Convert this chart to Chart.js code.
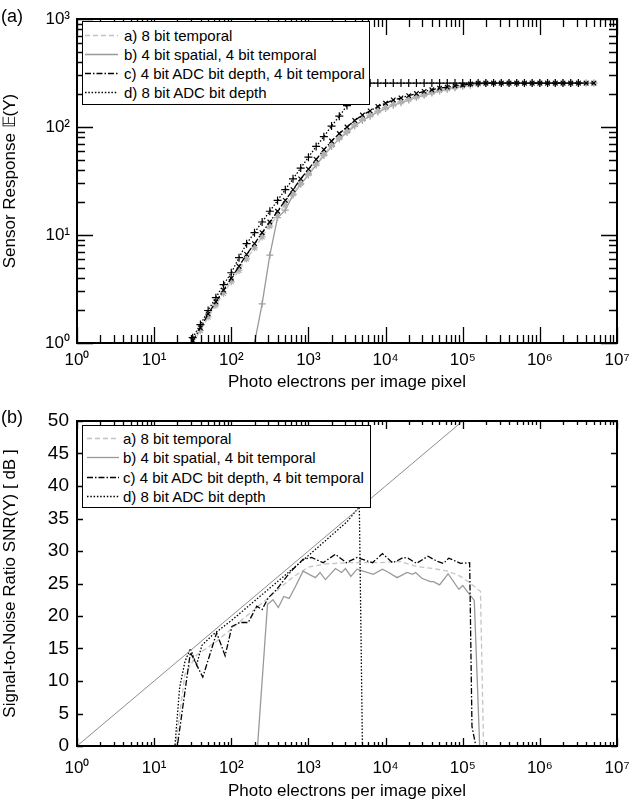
<!DOCTYPE html>
<html><head><meta charset="utf-8">
<script src="https://cdn.jsdelivr.net/npm/chart.js@4/dist/chart.umd.min.js"></script>
<style>
html,body{margin:0;padding:0;background:#fff}
body{width:642px;height:806px;position:relative;overflow:hidden;font-family:"Liberation Sans",Arial,sans-serif}
canvas{position:absolute;left:0}
#ca{top:0}
#cb{top:400px}
.tag{position:absolute;font-size:18px;color:#000}
.leg{position:absolute;border:1.5px solid #000;background:#fff;box-sizing:border-box}
.row{position:absolute;height:19px;line-height:19px;font-size:15px;white-space:nowrap;color:#000}
.row svg{position:absolute;top:4px}
.row span{position:absolute}
</style></head>
<body>
<canvas id="ca" width="642" height="400"></canvas>
<canvas id="cb" width="642" height="406"></canvas>
<div class="tag" style="left:1px;top:6px">(a)</div>
<div class="tag" style="left:1px;top:407px">(b)</div>
<div class="leg" id="legA" style="left:82px;top:21px;width:288px;height:84px"></div>
<div class="leg" id="legB" style="left:82px;top:425px;width:289px;height:83px"></div>
<script>
// ---------- labels ----------
const seriesLabels = ["a) 8 bit temporal", "b) 4 bit spatial, 4 bit temporal", "c) 4 bit ADC bit depth, 4 bit temporal", "d) 8 bit ADC bit depth"];
const xTitle = "Photo electrons per image pixel";
const yTitleA = "Sensor Response \u{1D53C}(Y)";
const yTitleB = "Signal-to-Noise Ratio SNR(Y) [ dB ]";
const supDigits = ["\u2070","\u00B9","\u00B2","\u00B3","\u2074","\u2075","\u2076","\u2077"];

// ---------- panel (a): sensor response, x = photo electrons ----------
const electronsA = [31.6, 39.8, 50.1, 63.1, 79.4, 100, 126, 158, 200, 251, 316, 398, 501, 631, 794,
  1000, 1259, 1585, 1995, 2512, 3162, 3981, 5012, 6310, 7943, 10000, 12589, 15849, 19953, 25119,
  31623, 39811, 50119, 63096, 79433, 100000, 125893, 158489, 199526, 251189, 316228, 398107, 501187,
  630957, 794328, 1000000, 1258925, 1584893, 1995262, 2511886, 3162278, 3981072, 5011872];
const respA = [1.0, 1.3, 1.74, 2.24, 2.88, 3.7, 4.7, 6.0, 7.6, 9.6, 12.1, 15.2, 19.1, 24, 30, 37, 45.7, 56, 67.6, 79.4,
  91.2, 105, 118, 129, 141, 151, 162, 171, 180, 190, 200, 209, 218, 226, 234, 240, 246, 251,
  255, 255, 255, 255, 255, 255, 255, 255, 255, 255, 255, 255, 255, 255, 255];
const respB = [null, null, null, null, null, null, null, null, 1.0, 2.3, 6.5, 14.5, 17, 23.5, 29.5, 36, 44.5, 54.5, 66, 77.6,
  89, 102, 115, 126, 138, 148, 159, 168, 178, 188, 197, 206, 215, 224, 231, 238, 244, 250,
  255, 255, 255, 255, 255, 255, 255, 255, 255, 255, 255, 255, 255, 255, 255];
const respC = [1.05, 1.38, 1.86, 2.4, 3.09, 3.98, 5.13, 6.61, 8.32, 10.5, 13.2, 16.6, 20.9, 26.3, 33.1, 40.7, 50.1, 61.7, 74.1, 87.1,
  100, 115, 129, 141, 155, 166, 178, 186, 195, 204, 214, 221, 229, 234, 240, 245, 251,
  255, 255, 255, 255, 255, 255, 255, 255, 255, 255, 255, 255, 255, 255, 255, 255];
const respD = [1.12, 1.48, 2.0, 2.63, 3.47, 4.47, 6.17, 8.32, 10.5, 13.2, 16.6, 20.9, 26.3, 33.1, 41.7, 52.5, 66.1, 81.3, 102, 126,
  158, 200, 251,
  255, 255, 255, 255, 255, 255, 255, 255, 255, 255, 255, 255, 255, 255, 255, 255, 255, 255, 255, 255, 255, 255, 255, 255, 255, 255, 255, 255];

// ---------- panel (b): SNR in dB, [electrons, dB] ----------
const snrIdeal = [[1,0],[10,10],[100,20],[1000,30],[10000,40],[100000,50]];
const snrA = [[1,0],[19,0],[25,11],[35.5,14],[63,16],[100,18],[158,20],[251,22],[398,24],[631,26],[1000,27.5],[1585,28],
  [3162,28.2],[8511,28.2],[15488,28.4],[25704,27.6],[41687,27.3],[64565,26.9],[93325,26.1],[117490,25.3],[169824,23.8],[186209,0],[1e7,0]];
const snrB = [[1,0],[219,0],[295,21.8],[347,22.5],[407,21.3],[479,23],[562,22.7],[676,24.5],[851,26.9],[1230,25.9],[1413,26.7],
  [1660,25.6],[2239,27.3],[2692,26.7],[3020,27.3],[3548,26.1],[4266,27.2],[6918,26.4],[9120,27.2],[10965,26.7],[14125,25.9],
  [19055,26.7],[22387,26.4],[24547,26.7],[29512,25.8],[38019,25.3],[41687,25.3],[50119,24.8],[64565,26.5],[89125,24.1],
  [100000,24.7],[123027,23.3],[141254,22.4],[165959,0],[1e7,0]];
const snrC = [[1,0],[20,0],[29.5,14.4],[42.7,10.6],[64.6,17.4],[83.2,13.9],[102,18.4],[129,19],[166,19],[214,21.5],[251,21],
  [302,22.8],[389,24.1],[525,26.1],[631,27.2],[851,28.7],[1096,29],[1549,28.2],[2239,29.5],[3090,28.2],[4266,29],[6761,28.2],
  [9120,29.6],[12303,28.2],[14125,28.5],[16982,29],[19498,28.9],[25119,28.1],[35481,29.2],[46774,28.4],[56234,28.1],
  [66069,28.9],[93325,28.1],[123027,28.2],[131826,3],[147911,0],[1e7,0]];
const snrD = [[1,0],[18.6,0],[21.4,9],[25.1,13],[29.5,15],[35.5,12.5],[41.7,15.5],[56.2,17],[100,19.3],[316,24.3],
  [1000,29.3],[3162,34.5],[4571,36.8],[5012,0],[1e7,0]];

// ---------- styles ----------
const colA = "#c4c4c4", colB = "#999999", colC = "#000000", colD = "#000000";
const dashA = [5,3], dashB = [], dashC = [6,2,1.5,2], dashD = [1.5,1.8];
const FONT = "'Liberation Sans', Arial, sans-serif";

function isPow10(v){ const l = Math.log10(v); return Math.abs(l - Math.round(l)) < 1e-6; }
function powLabel(v){ return isPow10(v) ? "10" + supDigits[Math.round(Math.log10(v))] : ""; }

function frameTicks(opts){
  return {
    id: "frameTicks",
    afterDatasetsDraw(chart){
      const {ctx, chartArea:a, scales} = chart;
      const x = scales.x, y = scales.y;
      ctx.save();
      ctx.strokeStyle = "#000"; ctx.lineWidth = 1.3;
      ctx.beginPath();
      for (let e = 0; e < 7; e++) for (let k = 1; k <= 10; k++) {
        const v = k * Math.pow(10, e); if (k === 10 && e < 6) continue;
        const px = Math.round(x.getPixelForValue(v)) + 0.5;
        const L = (k === 1 || k === 10) ? opts.xMaj : opts.xMin;
        ctx.moveTo(px, a.bottom); ctx.lineTo(px, a.bottom - L);
        ctx.moveTo(px, a.top); ctx.lineTo(px, a.top + L);
      }
      if (opts.yLog) {
        for (let e = 0; e < 3; e++) for (let k = 1; k <= 10; k++) {
          const v = k * Math.pow(10, e); if (k === 10 && e < 2) continue;
          const py = Math.round(y.getPixelForValue(v)) + 0.5;
          const L = (k === 1 || k === 10) ? opts.yMaj : opts.yMin;
          ctx.moveTo(a.left, py); ctx.lineTo(a.left + L, py);
          ctx.moveTo(a.right, py); ctx.lineTo(a.right - L, py);
        }
      } else {
        y.ticks.forEach(t => {
          const py = Math.round(y.getPixelForValue(t.value)) + 0.5;
          ctx.moveTo(a.left, py); ctx.lineTo(a.left + opts.yMaj, py);
          ctx.moveTo(a.right, py); ctx.lineTo(a.right - opts.yMaj, py);
        });
      }
      ctx.stroke();
      ctx.lineWidth = 2;
      ctx.strokeRect(a.left, a.top, a.right - a.left, a.bottom - a.top);
      ctx.restore();
    }
  };
}

function xAxis(height, tickPad, titlePadBottom){
  return {
    type: "logarithmic", min: 1, max: 1e7,
    grid: {display: false, drawTicks: false}, border: {display: false},
    afterFit(s){ s.height = height; },
    ticks: {autoSkip: false, maxRotation: 0, padding: tickPad, color: "#000",
      font: {family: FONT, size: 17}, callback: (v) => powLabel(v)},
    title: {display: true, text: xTitle, color: "#000", font: {family: FONT, size: 17},
      padding: {top: 0, bottom: titlePadBottom}}
  };
}

function lineDs(label, data, color, dash, extra){
  return Object.assign({label, data, borderColor: color, backgroundColor: color, borderDash: dash,
    borderWidth: 1.3, pointRadius: 0, tension: 0, fill: false, spanGaps: false}, extra || {});
}

// ---------- chart (a) ----------
const toPts = (ys) => electronsA.map((x, i) => ({x, y: ys[i]}));
new Chart(document.getElementById("ca"), {
  type: "line",
  data: {datasets: [
    lineDs(seriesLabels[3], toPts(respD), colD, dashD, {pointStyle: "cross", pointRadius: 4, pointBorderWidth: 1.2, pointBorderColor: "#000"}),
    lineDs(seriesLabels[2], toPts(respC), colC, dashC, {pointStyle: "crossRot", pointRadius: 3.2, pointBorderWidth: 1.2, pointBorderColor: "#000"}),
    lineDs(seriesLabels[0], toPts(respA), colA, dashA, {pointStyle: "star", pointRadius: 3.5, pointBorderWidth: 1.2, pointBorderColor: "#b0b0b0"}),
    lineDs(seriesLabels[1], toPts(respB), colB, dashB, {pointStyle: "cross", pointRadius: 3.5, pointBorderWidth: 1.2, pointBorderColor: "#a0a0a0"})
  ]},
  options: {
    responsive: false, animation: false, devicePixelRatio: 1,
    layout: {padding: {left: 0, right: 25, top: 19, bottom: 0}},
    plugins: {legend: {display: false}, tooltip: {enabled: false}},
    scales: {
      x: xAxis(57, 7, 7),
      y: {type: "logarithmic", min: 1, max: 1000,
        grid: {display: false, drawTicks: false}, border: {display: false},
        afterFit(s){ s.width = 77; },
        ticks: {autoSkip: false, padding: 7, color: "#000", font: {family: FONT, size: 17}, callback: (v) => powLabel(v)},
        title: {display: true, text: yTitleA, color: "#000", font: {family: FONT, size: 17}, padding: {top: 0, bottom: 0}}
      }
    }
  },
  plugins: [frameTicks({xMaj: 16, xMin: 8, yMaj: 16, yMin: 8, yLog: true})]
});

// ---------- chart (b) ----------
const toXY = (arr) => arr.map(p => ({x: p[0], y: p[1]}));
new Chart(document.getElementById("cb"), {
  type: "line",
  data: {datasets: [
    lineDs("ideal", toXY(snrIdeal), "#8c8c8c", [], {borderWidth: 1}),
    lineDs(seriesLabels[3], toXY(snrD), colD, dashD),
    lineDs(seriesLabels[2], toXY(snrC), colC, dashC),
    lineDs(seriesLabels[1], toXY(snrB), colB, dashB),
    lineDs(seriesLabels[0], toXY(snrA), colA, dashA)
  ]},
  options: {
    responsive: false, animation: false, devicePixelRatio: 1,
    layout: {padding: {left: 0, right: 25, top: 21, bottom: 0}},
    plugins: {legend: {display: false}, tooltip: {enabled: false}},
    scales: {
      x: xAxis(60, 12, 4),
      y: {type: "linear", min: 0, max: 50,
        grid: {display: false, drawTicks: false}, border: {display: false},
        afterFit(s){ s.width = 77; },
        ticks: {stepSize: 5, autoSkip: false, padding: 8, color: "#000", font: {family: FONT, size: 19}},
        title: {display: true, text: yTitleB, color: "#000", font: {family: FONT, size: 17}, padding: {top: 0, bottom: 0}}
      }
    }
  },
  plugins: [frameTicks({xMaj: 8, xMin: 4, yMaj: 6, yLog: false})]
});

// ---------- legends (HTML text) ----------
const legColors = [colA, colB, colC, colD];
const legDashes = [dashA, dashB, dashC, dashD];
function buildLegend(id, firstTop, step, lineX0, lineX1, textX){
  const box = document.getElementById(id);
  seriesLabels.forEach((lab, i) => {
    const row = document.createElement("div");
    row.className = "row";
    row.style.left = "0px"; row.style.top = (firstTop + i * step) + "px";
    const w = lineX1 + 2;
    row.innerHTML = `<svg width="${w}" height="11" style="left:0"><line x1="${lineX0}" y1="5.5" x2="${lineX1}" y2="5.5" stroke="${legColors[i]}" stroke-width="1.3" stroke-dasharray="${legDashes[i].join(",") || "none"}"/></svg><span style="left:${textX}px">${lab}</span>`;
    box.appendChild(row);
  });
}
buildLegend("legA", 4, 19, 2, 35, 41);
buildLegend("legB", 2.5, 19.5, 4, 36, 40);
</script>
</body></html>
